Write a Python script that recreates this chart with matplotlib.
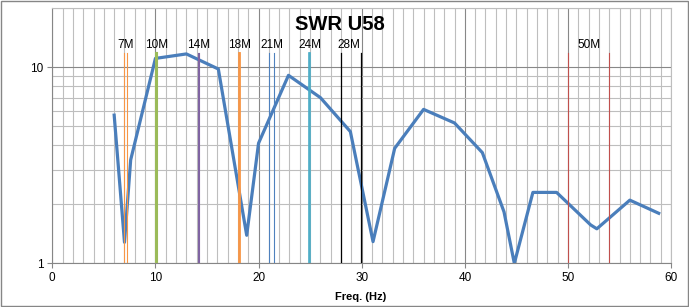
import matplotlib
matplotlib.use("Agg")
import matplotlib.pyplot as plt
import matplotlib.ticker as ticker
from matplotlib.patches import Rectangle

plt.rc('font', family='Liberation Sans')

# measured SWR curve
freq = [6.0, 7.0, 7.6, 10.0, 13.0, 16.1, 18.85, 20.0, 22.9, 26.0, 28.9, 31.1,
        33.2, 36.0, 39.0, 41.7, 43.8, 44.8, 46.6, 48.9, 52.2, 52.8, 56.0, 58.8]
swr = [5.7, 1.28, 3.37, 11.1, 11.7, 9.8, 1.39, 4.1, 9.1, 7.0, 4.7, 1.29,
       3.86, 6.1, 5.2, 3.67, 1.83, 1.0, 2.3, 2.3, 1.57, 1.5, 2.1, 1.8]

# ham bands (edges in MHz)
band_names = ['7M', '10M', '14M', '18M', '21M', '24M', '28M', '50M']
band_lo = [7.0, 10.1, 14.1, 18.07, 21.0, 24.89, 28.0, 50.0]
band_hi = [7.2, 10.15, 14.25, 18.17, 21.45, 24.99, 29.9, 54.0]
band_colors = ['#F79646', '#9BBB59', '#8064A2', '#F79646', '#4F81BD', '#4BACC6', '#000000', '#C0504D']
band_lw = [0.8, 1.5, 0.8, 1.3, 0.8, 1.2, 0.9, 0.8]
band_label_x = [7.15, 10.15, 14.15, 18.2, 21.3, 25.0, 28.8, 52.0]

fig = plt.figure(figsize=(6.89, 3.07), dpi=100)
ax = fig.add_axes([0.0759, 0.1423, 0.974 - 0.0759, 0.973 - 0.1423])

ax.plot(freq, swr, color='#4A7EBB', lw=2.3, zorder=3)

for lo, hi, c, w, name, lx in zip(band_lo, band_hi, band_colors, band_lw, band_names, band_label_x):
    ax.plot([lo, lo], [1, 11.8], color=c, lw=w, zorder=4)
    ax.plot([hi, hi], [1, 11.8], color=c, lw=w, zorder=4)
    ax.text(lx, 13.0, name, ha='center', va='center', fontsize=8.5, zorder=5)

ax.set_xlim(0, 60)
ax.set_yscale('log')
ax.set_ylim(1, 20)

ax.xaxis.set_major_locator(ticker.MultipleLocator(10))
ax.xaxis.set_minor_locator(ticker.MultipleLocator(1))
ax.yaxis.set_major_locator(ticker.FixedLocator([1, 10]))
ax.yaxis.set_major_formatter(ticker.FuncFormatter(lambda v, _: f'{int(v)}'))
ax.yaxis.set_minor_locator(ticker.LogLocator(base=10, subs=range(2, 10)))
ax.yaxis.set_minor_formatter(ticker.NullFormatter())

ax.grid(which='major', color='#888888', lw=0.8, zorder=0)
ax.grid(which='minor', color='#BEBEBE', lw=0.8, zorder=0)
ax.set_axisbelow(True)

ax.tick_params(which='major', length=3.5, width=0.8, color='#868686', labelsize=8.5, pad=3)
ax.tick_params(which='minor', length=0)
for side in ['top', 'right']:
    ax.spines[side].set_color('#BEBEBE')
    ax.spines[side].set_linewidth(0.8)
for side in ['left', 'bottom']:
    ax.spines[side].set_color('#868686')
    ax.spines[side].set_linewidth(0.8)

fig.text(340 / 689, 1 - 25 / 307, 'SWR U58', ha='center', va='center',
         fontsize=14.5, fontweight='bold')
fig.text(361 / 689, 1 - 297 / 307, 'Freq. (Hz)', ha='center', va='center',
         fontsize=8, fontweight='bold')

fig.patches.append(Rectangle((0.001, 0.002), 0.997, 0.995, transform=fig.transFigure,
                             fill=False, edgecolor='#868686', lw=1.0))

fig.savefig('out.png', dpi=100)
